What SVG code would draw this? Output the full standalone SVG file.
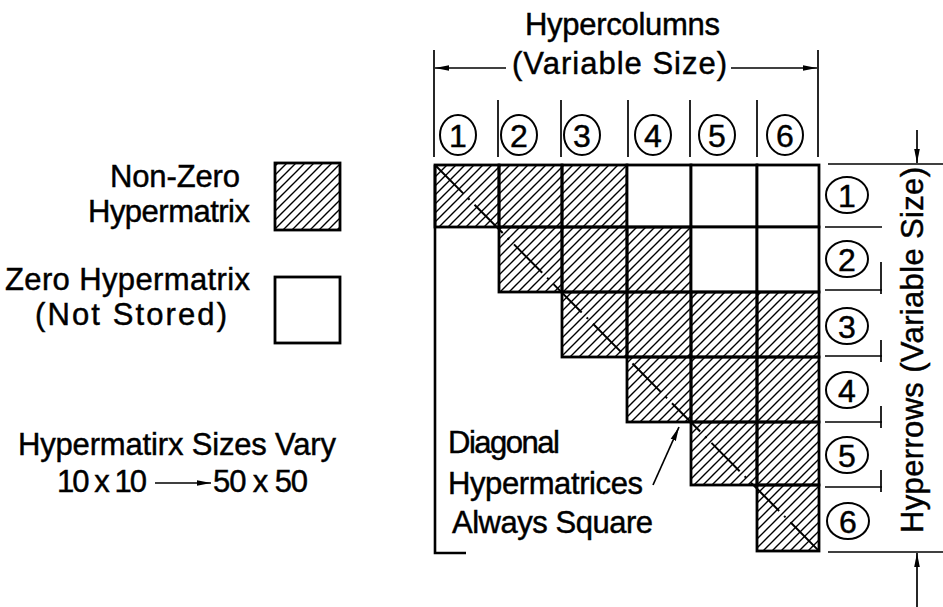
<svg xmlns="http://www.w3.org/2000/svg" width="943" height="607" viewBox="0 0 943 607">
<defs>
<pattern id="hatch" patternUnits="userSpaceOnUse" width="9" height="9">
<path d="M-1,1 L1,-1 M0,9 L9,0 M8,10 L10,8" stroke="#000" stroke-width="1.4"/>
</pattern>
<marker id="ah" viewBox="0 0 14 8" refX="14" refY="4" markerWidth="14" markerHeight="8" markerUnits="userSpaceOnUse" orient="auto-start-reverse">
<path d="M0,1.2 L14,4 L0,6.8 Z" fill="#000"/>
</marker>
</defs>
<style>
text{font-family:"Liberation Sans",Arial,sans-serif;fill:#000;stroke:#000;stroke-width:0.45}
.t{font-size:31px}
.d{font-size:32px;text-anchor:middle}
.cell{stroke:#000;stroke-width:2.8}
.h{fill:url(#hatch)}
.w{fill:#fff}
.ln{stroke:#000;stroke-width:1.7;fill:none}
.thk{stroke:#000;stroke-width:2.6;fill:none}
.circ{stroke:#000;stroke-width:2;fill:none}
</style>
<rect width="943" height="607" fill="#fff"/>

<g id="legend">
<g id="legend-nonzero">
<text class="t" x="110" y="187" textLength="130" lengthAdjust="spacing">Non-Zero</text>
<text class="t" x="88" y="222" textLength="162" lengthAdjust="spacing">Hypermatrix</text>
<rect class="cell h" x="275" y="163" width="65" height="67"/>
</g>
<g id="legend-zero">
<text class="t" x="5" y="290" textLength="245" lengthAdjust="spacing">Zero Hypermatrix</text>
<text class="t" x="35" y="325" textLength="192" lengthAdjust="spacing">(Not Stored)</text>
<rect class="cell w" x="275" y="277" width="65" height="66"/>
</g>
<g id="legend-sizes">
<text class="t" x="18" y="455" textLength="318" lengthAdjust="spacing">Hypermatirx Sizes Vary</text>
<text class="t" x="57" y="492" textLength="90" lengthAdjust="spacing">10 x 10</text>
<line class="ln" x1="155" y1="483" x2="211" y2="483" marker-end="url(#ah)"/>
<text class="t" x="213" y="492" textLength="95" lengthAdjust="spacing">50 x 50</text>
</g>
</g>

<g id="column-header">
<text class="t" x="525" y="35" textLength="195" lengthAdjust="spacing">Hypercolumns</text>
<text class="t" x="512" y="74" textLength="215" lengthAdjust="spacing">(Variable Size)</text>
<line class="ln" x1="434" y1="50" x2="434" y2="157"/>
<line class="ln" x1="818" y1="50" x2="818" y2="157"/>
<line class="ln" x1="506" y1="68" x2="435" y2="68" marker-end="url(#ah)"/>
<line class="ln" x1="731" y1="68" x2="817" y2="68" marker-end="url(#ah)"/>
<g class="ln">
<line x1="498" y1="100" x2="498" y2="157"/>
<line x1="561" y1="100" x2="561" y2="157"/>
<line x1="628" y1="100" x2="628" y2="157"/>
<line x1="690" y1="100" x2="690" y2="157"/>
<line x1="757" y1="100" x2="757" y2="157"/>
</g>
<g id="col1"><ellipse class="circ" cx="458" cy="135" rx="18" ry="20"/><text class="d" x="458" y="147">1</text></g>
<g id="col2"><ellipse class="circ" cx="519" cy="135" rx="18" ry="20"/><text class="d" x="519" y="147">2</text></g>
<g id="col3"><ellipse class="circ" cx="582" cy="135" rx="18" ry="20"/><text class="d" x="582" y="147">3</text></g>
<g id="col4"><ellipse class="circ" cx="653" cy="135" rx="18" ry="20"/><text class="d" x="653" y="147">4</text></g>
<g id="col5"><ellipse class="circ" cx="717" cy="135" rx="18" ry="20"/><text class="d" x="717" y="147">5</text></g>
<g id="col6"><ellipse class="circ" cx="785" cy="135" rx="18" ry="20"/><text class="d" x="785" y="147">6</text></g>
</g>

<g id="matrix">
<path class="thk" d="M435,165 V553 H466"/>
<g id="row1">
<rect class="cell h" x="435" y="165" width="64" height="62"/>
<rect class="cell h" x="499" y="165" width="63" height="62"/>
<rect class="cell h" x="562" y="165" width="65" height="62"/>
<rect class="cell w" x="627" y="165" width="64" height="62"/>
<rect class="cell w" x="691" y="165" width="66" height="62"/>
<rect class="cell w" x="757" y="165" width="62" height="62"/>
</g>
<g id="row2">
<rect class="cell h" x="499" y="227" width="63" height="65"/>
<rect class="cell h" x="562" y="227" width="65" height="65"/>
<rect class="cell h" x="627" y="227" width="64" height="65"/>
<rect class="cell w" x="691" y="227" width="66" height="65"/>
<rect class="cell w" x="757" y="227" width="62" height="65"/>
</g>
<g id="row3">
<rect class="cell h" x="562" y="292" width="65" height="65"/>
<rect class="cell h" x="627" y="292" width="64" height="65"/>
<rect class="cell h" x="691" y="292" width="66" height="65"/>
<rect class="cell h" x="757" y="292" width="62" height="65"/>
</g>
<g id="row4">
<rect class="cell h" x="627" y="357" width="64" height="65"/>
<rect class="cell h" x="691" y="357" width="66" height="65"/>
<rect class="cell h" x="757" y="357" width="62" height="65"/>
</g>
<g id="row5">
<rect class="cell h" x="691" y="422" width="66" height="63"/>
<rect class="cell h" x="757" y="422" width="62" height="63"/>
</g>
<g id="row6">
<rect class="cell h" x="757" y="485" width="62" height="66"/>
</g>
<line x1="435" y1="165" x2="819" y2="551" stroke="#000" stroke-width="2" stroke-dasharray="40 7 2 7"/>
</g>

<g id="row-header">
<line class="ln" x1="828" y1="164" x2="943" y2="164"/>
<line class="ln" x1="828" y1="552" x2="943" y2="552"/>
<line class="ln" x1="917" y1="130" x2="917" y2="163" marker-end="url(#ah)"/>
<line class="ln" x1="917" y1="607" x2="917" y2="553" marker-end="url(#ah)"/>
<g class="ln">
<line x1="825" y1="227" x2="882" y2="227"/>
<line x1="825" y1="290" x2="882" y2="290"/>
<line x1="825" y1="356" x2="882" y2="356"/>
<line x1="825" y1="422" x2="882" y2="422"/>
<line x1="825" y1="487" x2="882" y2="487"/>
<line x1="881" y1="262" x2="881" y2="294"/>
<line x1="881" y1="340" x2="881" y2="362"/>
<line x1="881" y1="406" x2="881" y2="428"/>
<line x1="881" y1="470" x2="881" y2="492"/>
</g>
<g id="rowlab1"><ellipse class="circ" cx="847" cy="195" rx="21" ry="18"/><text class="d" x="847" y="207">1</text></g>
<g id="rowlab2"><ellipse class="circ" cx="847" cy="259" rx="21" ry="18"/><text class="d" x="847" y="271">2</text></g>
<g id="rowlab3"><ellipse class="circ" cx="847" cy="326" rx="21" ry="18"/><text class="d" x="847" y="338">3</text></g>
<g id="rowlab4"><ellipse class="circ" cx="847" cy="390" rx="21" ry="18"/><text class="d" x="847" y="402">4</text></g>
<g id="rowlab5"><ellipse class="circ" cx="847" cy="455" rx="21" ry="18"/><text class="d" x="847" y="467">5</text></g>
<g id="rowlab6"><ellipse class="circ" cx="848" cy="521" rx="21" ry="18"/><text class="d" x="848" y="533">6</text></g>
<text class="t" transform="translate(923,533) rotate(-90)" textLength="366" lengthAdjust="spacing">Hyperrows (Variable Size)</text>
</g>

<g id="diagonal-note">
<text class="t" x="448" y="453" textLength="112" lengthAdjust="spacing">Diagonal</text>
<text class="t" x="448" y="494" textLength="195" lengthAdjust="spacing">Hypermatrices</text>
<text class="t" x="452" y="533" textLength="201" lengthAdjust="spacing">Always Square</text>
<line class="ln" x1="653" y1="485" x2="679" y2="427" marker-end="url(#ah)"/>
</g>
</svg>
